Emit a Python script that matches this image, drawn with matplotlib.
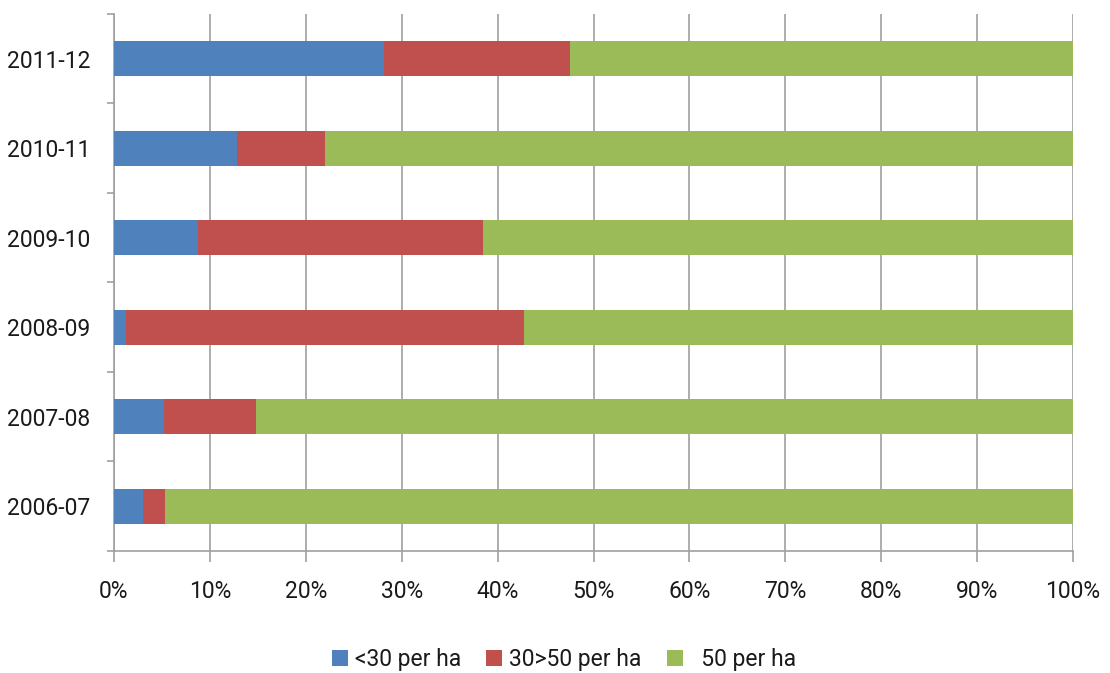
import numpy as np
import matplotlib
matplotlib.use("Agg")
import matplotlib.pyplot as plt
from matplotlib.ticker import PercentFormatter

plt.rcParams['font.family'] = ['Roboto', 'DejaVu Sans']

seasons = ['2006-07', '2007-08', '2008-09', '2009-10', '2010-11', '2011-12']
below_30 = [3.0, 5.2, 1.2, 8.8, 12.8, 28.2]
from_30_to_50 = [2.3, 9.6, 41.6, 29.7, 9.2, 19.3]
above_50 = [100 - a - b for a, b in zip(below_30, from_30_to_50)]

series_names = ['<30 per ha', '30>50 per ha', '  50 per ha']
colours = ['#4F81BD', '#C0504D', '#9BBB59']

fig = plt.figure(figsize=(11.1, 6.73), dpi=100)
ax = fig.add_axes([0.1027, 0.1813, 0.864, 0.7979])

y = np.arange(len(seasons))
left = np.zeros(len(seasons))
for vals, name, col in zip([below_30, from_30_to_50, above_50], series_names, colours):
    ax.barh(y, vals, left=left, height=0.39, color=col, label=name, zorder=3)
    left += np.array(vals)

ax.set_xlim(0, 100)
ax.set_ylim(-0.5, len(seasons) - 0.5)
ax.set_xticks(np.arange(0, 101, 10))
ax.xaxis.set_major_formatter(PercentFormatter(decimals=0))
ax.grid(axis='x', color='#A0A0A0', linewidth=1.2, zorder=0)

# category labels sit between the separator ticks
ax.set_yticks(y)
ax.set_yticklabels(seasons)
ax.set_yticks(np.arange(-0.5, len(seasons), 1), minor=True)
ax.tick_params(axis='y', which='major', length=0, pad=17, labelsize=16.5, labelcolor='#1a1a1a')
ax.tick_params(axis='y', which='minor', length=5, width=1.2, color='#A0A0A0')
ax.tick_params(axis='x', length=8, width=1.2, color='#A0A0A0', pad=13, labelsize=16.5,
               labelcolor='#1a1a1a')

for side in ['top', 'right']:
    ax.spines[side].set_visible(False)
for side in ['left', 'bottom']:
    ax.spines[side].set_color('#A0A0A0')
    ax.spines[side].set_linewidth(1.2)

fig.legend(loc='center', bbox_to_anchor=(0.508, 0.02), ncol=3, frameon=False,
           fontsize=16.5, handlelength=0.7, handleheight=0.7, handletextpad=0.3,
           columnspacing=1.1, labelcolor='#1a1a1a')

fig.savefig('out.png', dpi=100)
